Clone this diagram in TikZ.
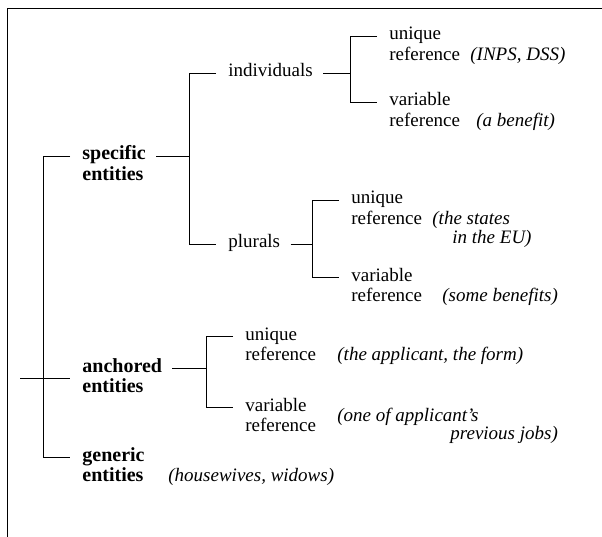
\documentclass[tikz,border=0pt]{standalone}
\usepackage{fontspec}
\setmainfont{Liberation Serif}
\newcommand{\twoln}[2]{\begin{tabular}[t]{@{}l@{}}#1\\#2\end{tabular}}

\tikzset{
  txt/.style={anchor=base west, inner sep=0pt, font=\fontsize{19}{20.5}\selectfont},
  cat/.style={txt, font=\fontsize{20}{20.5}\selectfont\bfseries},
  ex/.style={txt, font=\fontsize{19}{18}\selectfont\itshape},
}

\begin{document}
\begin{tikzpicture}[x=1pt, y=-1pt, line width=0.8pt]
  \useasboundingbox (0,0) rectangle (602,537);
  % frame
  \draw (602,8) -- (7,8) -- (7,537);

  \node[cat] (spec) at (82,160) {\twoln{specific}{entities}};
  \node[cat] (anch) at (82,372) {\twoln{anchored}{entities}};
  \node[cat] (gen)  at (82,461) {\twoln{generic}{entities}};

  \node[txt] (indiv) at (228,77)  {individuals};
  \node[txt] (plur)  at (228,248) {plurals};

  \node[txt] (u1) at (389,40)  {\twoln{unique}{reference}};
  \node[txt] (v1) at (389,106) {\twoln{variable}{reference}};
  \node[txt] (u2) at (351,204) {\twoln{unique}{reference}};
  \node[txt] (v2) at (351,281) {\twoln{variable}{reference}};
  \node[txt] (u3) at (245,340) {\twoln{unique}{reference}};
  \node[txt] (v3) at (245,411) {\twoln{variable}{reference}};

  % examples
  \node[ex] (ex-u1)  at (470,60.5)  {(INPS, DSS)};
  \node[ex] (ex-v1)  at (476,126.5) {(a benefit)};
  \node[ex] (ex-u2)  at (432,224.5) {\twoln{(the states}{\hspace*{20pt}in the EU)}};
  \node[ex] (ex-v2)  at (442,301.5) {(some benefits)};
  \node[ex] (ex-u3)  at (337,360.5) {(the applicant, the form)};
  \node[ex] (ex-v3)  at (337,421)   {\twoln{(one of applicant's}{\hspace*{113pt}previous jobs)}};
  \node[ex] (ex-gen) at (168,481.5) {(housewives, widows)};

  % tick ends
  \foreach \n in {spec,gen,indiv,plur,u1,v1,u2,v2,u3,v3}
    \coordinate (\n-in) at ([shift={(-12pt,4pt)}]\n.base west);
  \foreach \n in {spec,anch,indiv,plur}
    \coordinate (\n-out) at ([shift={(10pt,4pt)}]\n.base east);
  \coordinate (anch-in) at ([xshift=-12pt]anch.west);
  \coordinate (root) at ([xshift=-50pt]anch-in);

  % brackets
  \draw (root) -- (anch-in);
  \draw (spec-in) -- ++(-27pt,0) |- (gen-in);
  \draw (indiv-in) -- ++(-27pt,0) coordinate (j-spec) |- (plur-in);
  \draw (spec-out) -- (spec-out -| j-spec);
  \draw (u1-in) -- ++(-27pt,0) coordinate (j-indiv) |- (v1-in);
  \draw (indiv-out) -- (indiv-out -| j-indiv);
  \draw (u2-in) -- ++(-27pt,0) coordinate (j-plur) |- (v2-in);
  \draw (plur-out) -- (plur-out -| j-plur);
  \draw (u3-in) -- ++(-27pt,0) coordinate (j-anch) |- (v3-in);
  \draw (anch-out) -- (anch-out -| j-anch);
\end{tikzpicture}
\end{document}
